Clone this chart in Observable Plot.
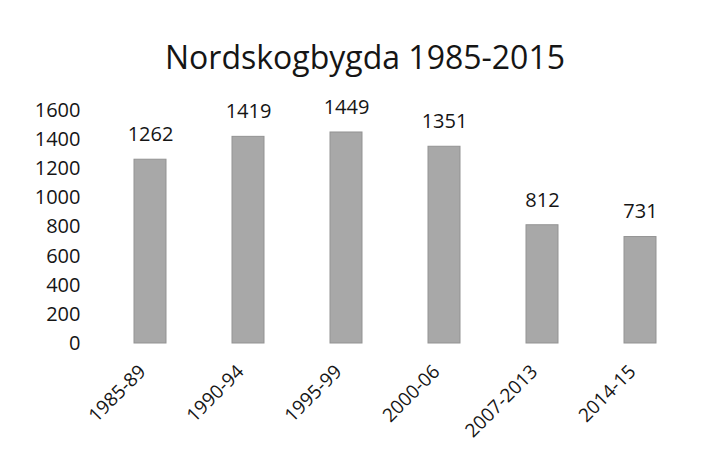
<!DOCTYPE html>
<html><head><meta charset="utf-8">
<script src="https://cdn.jsdelivr.net/npm/d3@7"></script>
<script src="https://cdn.jsdelivr.net/npm/@observablehq/plot@0.6"></script>
<style>
body{margin:0;background:#fff;font-family:"Open Sans",sans-serif;}
#title{height:90px;width:712px;box-sizing:border-box;padding-left:18px;text-align:center;font-size:32px;line-height:32px;padding-top:41px;color:#151515;font-weight:500;}
svg text{font-weight:500;}
</style></head>
<body>
<div id="title">Nordskogbygda 1985-2015</div>
<div id="chart"></div>
<script>
const periods = ["1985-89","1990-94","1995-99","2000-06","2007-2013","2014-15"];
const counts = [1262,1419,1449,1351,812,731];
const yTicks = [0,200,400,600,800,1000,1200,1400,1600];
const data = periods.map((p,i)=>({period:p,count:counts[i]}));
const chart = Plot.plot({
  width:712, height:373,
  marginLeft:85, marginRight:7, marginTop:20, marginBottom:120,
  style:{fontFamily:"Open Sans, sans-serif", fontSize:"20px", color:"#151515", background:"#fff"},
  x:{domain:periods, paddingInner:0.6735, paddingOuter:0.5, label:null},
  y:{domain:[0,1600], label:null},
  marks:[
    Plot.barY(data,{x:"period", y:"count", fill:"#a8a8a8", stroke:"#939393", strokeWidth:1}),
    Plot.text(data,{x:"period", y:"count", text:d=>String(d.count), dy:-25, fontSize:20, fill:"#151515"}),
    Plot.axisY({ticks:yTicks, tickFormat:"d", tickSize:0, tickPadding:5, fontSize:20, label:null}),
    Plot.axisX({tickSize:0, tickRotate:-45, tickPadding:25, dx:-8, fontSize:19, label:null})
  ]
});
document.getElementById("chart").appendChild(chart);
</script>
</body></html>
